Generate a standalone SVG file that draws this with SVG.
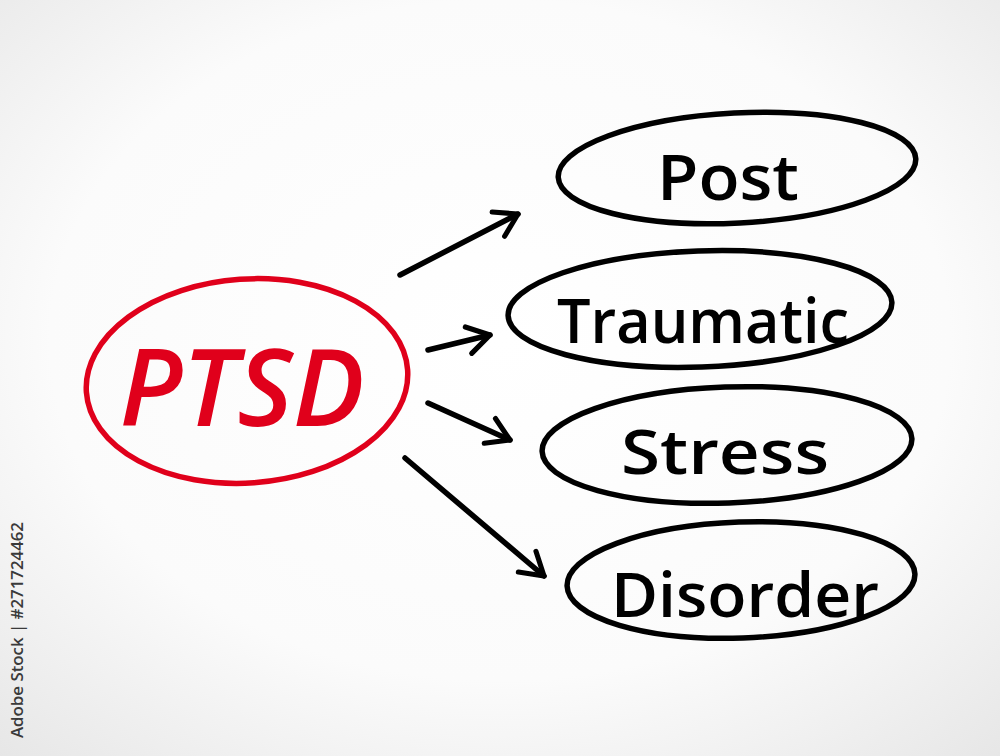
<svg xmlns="http://www.w3.org/2000/svg" width="1000" height="756" viewBox="0 0 1000 756">
<defs>
<radialGradient id="bg" cx="0.5" cy="0.45" r="0.75">
<stop offset="0" stop-color="#ffffff"/>
<stop offset="0.6" stop-color="#fbfbfb"/>
<stop offset="1" stop-color="#e6e6e6"/>
</radialGradient>
<marker id="head" viewBox="0 0 20 20" refX="17" refY="10" markerWidth="34" markerHeight="34" markerUnits="userSpaceOnUse" orient="auto">
<path d="M4 2 L17 10 L4 18" fill="none" stroke="#000" stroke-width="3" stroke-linecap="round" stroke-linejoin="round"/>
</marker>
<style>
.oval{fill:none;stroke:#000;stroke-width:5.5}
.word{font-family:"Open Sans","DejaVu Sans",sans-serif;font-weight:600;fill:#000}
.conn{fill:none;stroke:#000;stroke-width:5.5;stroke-linecap:round;marker-end:url(#head)}
</style>
</defs>
<rect width="1000" height="756" fill="url(#bg)"/>
<g id="ptsd">
<ellipse cx="247" cy="381" rx="161" ry="102" transform="rotate(-4 247 381)" fill="none" stroke="#e0001b" stroke-width="5.5"/>
<text x="242" y="426" text-anchor="middle" font-family="Open Sans, DejaVu Sans, sans-serif" font-style="italic" font-weight="600" font-size="106" fill="#e0001b" textLength="245" lengthAdjust="spacingAndGlyphs">PTSD</text>
</g>
<g id="post">
<ellipse class="oval" cx="737" cy="168" rx="179" ry="55" transform="rotate(-3 737 168)"/>
<text class="word" x="728" y="200" text-anchor="middle" font-size="64" textLength="142" lengthAdjust="spacingAndGlyphs">Post</text>
</g>
<g id="traumatic">
<ellipse class="oval" cx="700" cy="309" rx="192" ry="58" transform="rotate(-2 700 309)"/>
<text class="word" x="703" y="343" text-anchor="middle" font-size="62" textLength="292" lengthAdjust="spacingAndGlyphs">Traumatic</text>
</g>
<g id="stress">
<ellipse class="oval" cx="727" cy="445" rx="185" ry="58" transform="rotate(-2 727 445)"/>
<text class="word" x="725" y="474" text-anchor="middle" font-size="62" textLength="208" lengthAdjust="spacingAndGlyphs">Stress</text>
</g>
<g id="disorder">
<ellipse class="oval" cx="741" cy="580" rx="174" ry="58" transform="rotate(-2 741 580)"/>
<text class="word" x="745" y="617" text-anchor="middle" font-size="62" textLength="268" lengthAdjust="spacingAndGlyphs">Disorder</text>
</g>
<g id="connectors">
<path class="conn" d="M400 275 L518 214"/>
<path class="conn" d="M428 350 L490 335"/>
<path class="conn" d="M428 403 L510 440"/>
<path class="conn" d="M405 458 L544 576"/>
</g>
<text x="23" y="738" transform="rotate(-90 23 738)" font-family="Open Sans, DejaVu Sans, sans-serif" font-weight="600" font-size="16" fill="#3a3a3a" textLength="216" lengthAdjust="spacingAndGlyphs">Adobe Stock | #271724462</text>
</svg>
